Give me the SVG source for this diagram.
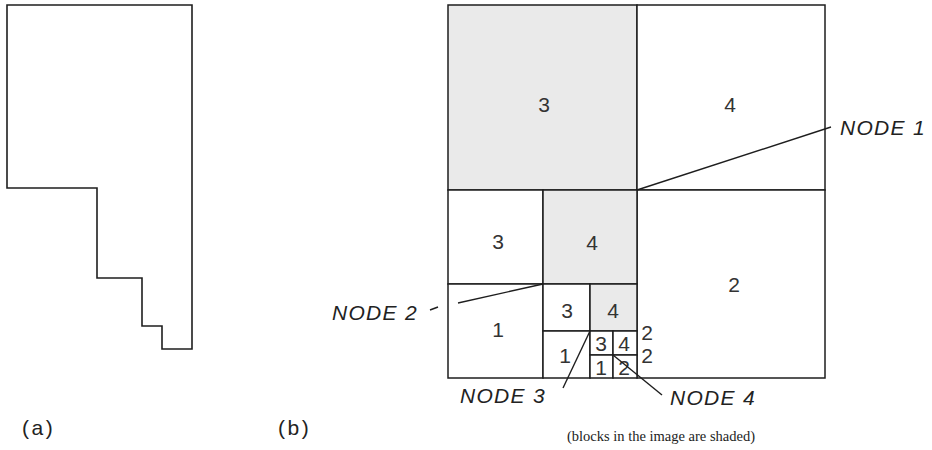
<svg xmlns="http://www.w3.org/2000/svg" width="932" height="450" viewBox="0 0 932 450">
<style>
.bg{fill:#ffffff}
.cell{fill:#ffffff;stroke:#1e1e1e;stroke-width:1.5}
.shade{fill:#eaeaea;stroke:#1e1e1e;stroke-width:1.5}
.outline{fill:none;stroke:#1e1e1e;stroke-width:1.6;stroke-linejoin:miter}
.lead{fill:none;stroke:#1e1e1e;stroke-width:1.4}
.dig{font-family:"Liberation Sans",Arial,sans-serif;font-size:21px;fill:#333;text-anchor:middle}
.node{font-family:"Liberation Sans",Arial,sans-serif;font-size:21px;font-style:italic;fill:#222;letter-spacing:1.3px}
.lab{font-family:"Liberation Sans",Arial,sans-serif;font-size:21px;fill:#222;letter-spacing:2.5px}
.cap{font-family:"Liberation Serif","Times New Roman",serif;font-size:14.5px;fill:#222}
</style>
<rect class="bg" x="0" y="0" width="932" height="450"/>
<g id="shape-a">
<polygon class="outline" points="7,5 192,5 192,349 162,349 162,326 142,326 142,278 97,278 97,188 7,188"/>
</g>
<g id="quadtree">
<g id="q-tl"><rect class="shade" x="448" y="5" width="189" height="185"/><text class="dig" x="544" y="112">3</text></g>
<g id="q-tr"><rect class="cell" x="637" y="5" width="188" height="185"/><text class="dig" x="730" y="112">4</text></g>
<g id="q-br"><rect class="cell" x="637" y="190" width="188" height="188"/><text class="dig" x="734" y="292">2</text></g>
<g id="q-bl-3"><rect class="cell" x="448" y="190" width="95" height="94"/><text class="dig" x="498" y="249">3</text></g>
<g id="q-bl-4"><rect class="shade" x="543" y="190" width="94" height="94"/><text class="dig" x="592" y="250">4</text></g>
<g id="q-bl-1"><rect class="cell" x="448" y="284" width="95" height="94"/><text class="dig" x="498" y="337">1</text></g>
<g id="q-bl-2-3"><rect class="cell" x="543" y="284" width="47" height="47"/><text class="dig" x="567" y="318">3</text></g>
<g id="q-bl-2-4"><rect class="shade" x="590" y="284" width="47" height="47"/><text class="dig" x="613" y="318">4</text></g>
<g id="q-bl-2-1"><rect class="cell" x="543" y="331" width="47" height="47"/><text class="dig" x="565" y="363">1</text></g>
<g id="q-s-3"><rect class="cell" x="590" y="331" width="23" height="24"/><text class="dig" x="601" y="351">3</text></g>
<g id="q-s-4"><rect class="cell" x="613" y="331" width="24" height="24"/><text class="dig" x="624" y="351">4</text></g>
<g id="q-s-1"><rect class="cell" x="590" y="355" width="23" height="23"/><text class="dig" x="601" y="375">1</text></g>
<g id="q-s-2"><rect class="cell" x="613" y="355" width="24" height="23"/><text class="dig" x="624" y="375">2</text></g>
<text class="dig" x="647" y="340">2</text>
<text class="dig" x="647" y="363">2</text>
</g>
<g id="connectors">
<line class="lead" x1="637" y1="190" x2="831" y2="127"/>
<line class="lead" x1="430" y1="310" x2="438" y2="307"/>
<line class="lead" x1="458" y1="303" x2="543" y2="284"/>
<line class="lead" x1="563" y1="388" x2="590" y2="331"/>
<line class="lead" x1="613" y1="355" x2="662" y2="395"/>
</g>
<g id="labels">
<text class="node" x="840" y="135">NODE 1</text>
<text class="node" x="332" y="320">NODE 2</text>
<text class="node" x="460" y="403">NODE 3</text>
<text class="node" x="670" y="405">NODE 4</text>
<text class="lab" x="22" y="435">(a)</text>
<text class="lab" x="278" y="435">(b)</text>
<text class="cap" x="567" y="441">(blocks in the image are shaded)</text>
</g>
</svg>
